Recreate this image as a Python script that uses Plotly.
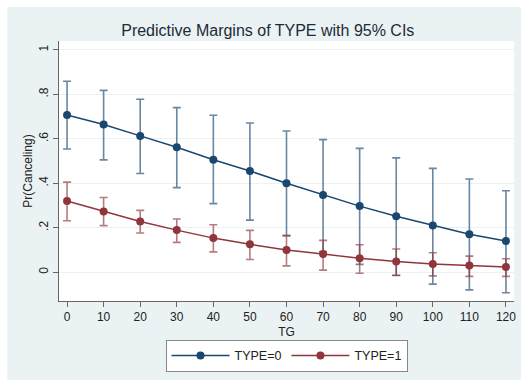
import plotly.graph_objects as go

tg = [0, 10, 20, 30, 40, 50, 60, 70, 80, 90, 100, 110, 120]

type0_margin = [0.707, 0.664, 0.613, 0.562, 0.506, 0.455, 0.400, 0.347, 0.297, 0.251, 0.210, 0.170, 0.140]
type0_upper = [0.859, 0.818, 0.778, 0.740, 0.706, 0.671, 0.635, 0.596, 0.557, 0.514, 0.467, 0.419, 0.366]
type0_lower = [0.554, 0.505, 0.444, 0.380, 0.308, 0.234, 0.164, 0.093, 0.035, -0.015, -0.054, -0.080, -0.093]

type1_margin = [0.320, 0.273, 0.228, 0.189, 0.153, 0.125, 0.099, 0.081, 0.062, 0.048, 0.037, 0.030, 0.023]
type1_upper = [0.405, 0.336, 0.278, 0.239, 0.213, 0.188, 0.164, 0.143, 0.123, 0.104, 0.087, 0.072, 0.060]
type1_lower = [0.231, 0.209, 0.176, 0.134, 0.091, 0.057, 0.028, 0.009, -0.005, -0.014, -0.017, -0.019, -0.019]

y_tickvals = [0, 0.2, 0.4, 0.6, 0.8, 1]
y_ticktext = ["0", ".2", ".4", ".6", ".8", "1"]

series = [
    ("TYPE=0", type0_margin, type0_upper, type0_lower, "#1a476f", "rgba(26,71,111,0.65)"),
    ("TYPE=1", type1_margin, type1_upper, type1_lower, "#90353b", "rgba(144,53,59,0.65)"),
]

BG = "#eaf2f3"
fig = go.Figure()
for name, m, up, lo, col, cicol in series:
    fig.add_trace(go.Scatter(
        x=tg, y=m, name=name, mode="lines+markers",
        line=dict(color=col, width=1.5),
        marker=dict(color=col, size=8, symbol="circle"),
        error_y=dict(type="data", symmetric=False,
                     array=[u - v for u, v in zip(up, m)],
                     arrayminus=[v - l for v, l in zip(m, lo)],
                     color=cicol, thickness=1.6, width=4),
    ))

fig.update_layout(
    width=521, height=380,
    margin=dict(l=59, r=5, t=41, b=79),
    paper_bgcolor=BG, plot_bgcolor="white",
    font=dict(family="Liberation Sans, Arial, sans-serif", size=12, color="#222"),
    title=dict(text="Predictive Margins of TYPE with 95% CIs",
               font=dict(size=16, color="#1e2a38"),
               x=0.514, xref="container", xanchor="center",
               y=1 - 30 / 380, yref="container", yanchor="middle"),
    showlegend=True,
    legend=dict(orientation="h", x=0.5, xanchor="center", xref="paper",
                y=-0.2115, yanchor="middle", yref="paper",
                bgcolor="white", bordercolor="#888", borderwidth=1,
                itemwidth=58, font=dict(size=12.5), traceorder="normal"),
    xaxis=dict(range=[-2.2, 122.2], tickvals=tg, ticks="outside", ticklen=5,
               tickcolor="#666", showline=True, linecolor="#666", linewidth=1,
               showgrid=False, zeroline=False,
               title=dict(text="TG", standoff=4, font=dict(size=12)),
               tickfont=dict(size=12)),
    yaxis=dict(range=[-0.13, 1.04], tickvals=y_tickvals, ticktext=y_ticktext,
               tickangle=-90, ticks="outside", ticklen=5, tickcolor="#666",
               showline=True, linecolor="#666", linewidth=1,
               showgrid=True, gridcolor=BG, gridwidth=1, zeroline=False,
               title=dict(text="Pr(Canceling)", standoff=2, font=dict(size=12)),
               tickfont=dict(size=12)),
    shapes=[
        dict(type="rect", xref="paper", yref="paper", x0=-0.2, x1=(7 - 59) / 457,
             y0=-0.5, y1=1.3, fillcolor="white", line=dict(width=0), layer="below"),
        dict(type="rect", xref="paper", yref="paper", x0=-0.2, x1=1.2,
             y0=(301 - 7) / 260, y1=1.3, fillcolor="white", line=dict(width=0), layer="below"),
    ],
)

fig.write_html("out.html", config={"displayModeBar": False},
               post_script="document.body.style.margin='0';document.body.style.padding='0';")
